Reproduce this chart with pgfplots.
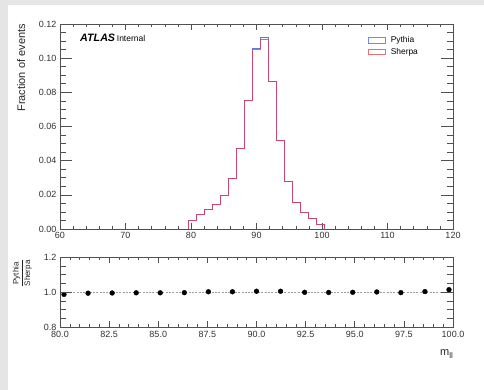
\documentclass[border=0pt]{standalone}
\usepackage{fontspec}
\setmainfont{Liberation Sans}
\usepackage{pgfplots}
\pgfplotsset{compat=1.18}
\definecolor{bggray}{RGB}{229,229,229}
\definecolor{axcol}{RGB}{80,80,80}
\definecolor{pyth}{RGB}{90,120,235}
\definecolor{sherp}{RGB}{228,58,85}
\definecolor{pythL}{RGB}{110,140,240}
\definecolor{sherpL}{RGB}{235,110,120}
\begin{document}
\begin{tikzpicture}
\fill[bggray] (0,0) rectangle (484pt,390pt);
\fill[white] (8pt,0) rectangle (484pt,385pt);
\pgfplotsset{
  rootstyle/.style={
    scale only axis, width=393pt,
    axis line style={axcol, line width=0.8pt},
    tick align=inside, tick pos=both,
    every tick/.style={axcol, line width=0.6pt},
    /pgf/number format/assume math mode=true,
    tick label style={font=\fontsize{9}{10}\selectfont, text=black!80},
    major tick length=6pt, minor tick length=3pt,
    scaled ticks=false,
  },
  yticksonly/.style={
    scale only axis, width=393pt,
    axis line style={axcol, line width=0.8pt},
    tick align=inside, tick pos=both,
    every tick/.style={axcol, line width=0.6pt},
    major tick length=12pt, minor tick length=6pt,
    xtick=\empty, yticklabels={},
  }
}
\begin{axis}[rootstyle,
  at={(60pt,161pt)}, anchor=south west, height=205pt,
  xmin=60, xmax=120, ymin=0, ymax=0.12,
  xtick={60,70,80,90,100,110,120}, minor x tick num=4,
  ytick={0,0.02,0.04,0.06,0.08,0.1,0.12}, minor y tick num=3,
  yticklabel style={/pgf/number format/.cd, fixed, fixed zerofill, precision=2},
  ylabel={Fraction of events},
  ylabel style={at={(axis description cs:-0.089,1)}, anchor=base east, inner sep=0pt, font=\fontsize{11}{12}\selectfont, text=black!85},
  legend style={at={(axis description cs:0.782,0.948)}, anchor=north west, draw=none, fill=none,
    font=\fontsize{8.4}{9}\selectfont, row sep=1.2pt, column sep=4pt, inner sep=0pt, nodes={inner sep=1.5pt}},
  legend cell align=left,
  legend image code/.code={\draw[#1] (0pt,-2.8pt) rectangle (17pt,2.8pt);},
]
\addplot[pyth, line width=0.9pt, const plot, forget plot] coordinates {
(79.592,0) (79.592,0.00494) (80.816,0.00856) (82.041,0.01125) (83.265,0.01446)
(84.490,0.01974) (85.714,0.02944) (86.939,0.04734) (88.163,0.07553) (89.388,0.10563)
(90.612,0.11187) (91.837,0.08620) (93.061,0.05175) (94.286,0.02810) (95.510,0.01553)
(96.735,0.00948) (97.959,0.00622) (99.184,0.00294) (100.408,0)};
\addplot[sherp, line width=0.9pt, opacity=0.8, const plot, forget plot] coordinates {
(79.592,0) (79.592,0.0050) (80.816,0.0086) (82.041,0.0113) (83.265,0.0145)
(84.490,0.0198) (85.714,0.0295) (86.939,0.0472) (88.163,0.0753) (89.388,0.1050)
(90.612,0.1112) (91.837,0.0862) (93.061,0.0518) (94.286,0.0281) (95.510,0.0155)
(96.735,0.0095) (97.959,0.0062) (99.184,0.0029) (100.408,0)};
\addlegendimage{pythL, line width=0.8pt}
\addlegendentry{Pythia}
\addlegendimage{sherpL, line width=0.8pt}
\addlegendentry{Sherpa}
\node[anchor=base west, inner sep=0pt] at (axis description cs:0.051,0.915)
  {\fontsize{10.7}{12}\selectfont\textbf{\textit{ATLAS}}\,\fontsize{8.5}{10}\selectfont Internal};
\end{axis}
\begin{axis}[yticksonly,
  at={(60pt,161pt)}, anchor=south west, height=205pt,
  xmin=60, xmax=120, ymin=0, ymax=0.12,
  ytick={0,0.02,0.04,0.06,0.08,0.1,0.12}, minor y tick num=3,
]
\end{axis}
\begin{axis}[rootstyle,
  at={(60pt,62.7pt)}, anchor=south west, height=70pt,
  xmin=80, xmax=100, ymin=0.8, ymax=1.2,
  xtick={80,82.5,85,87.5,90,92.5,95,97.5,100}, minor x tick num=4,
  ytick={0.8,1.0,1.2}, minor y tick num=3,
  xticklabel style={/pgf/number format/.cd, fixed, fixed zerofill, precision=1},
  yticklabel style={/pgf/number format/.cd, fixed, fixed zerofill, precision=1},
  ylabel={\fontsize{8}{9}\selectfont$\displaystyle\frac{\mbox{Pythia}}{\mbox{Sherpa}}$},
  ylabel style={at={(axis description cs:-0.096,0.77)}, anchor=center, inner sep=0pt, text=black!85},
  xlabel={m\raisebox{-0.45ex}{\fontsize{8}{9}\selectfont ll}},
  xlabel style={at={(axis description cs:1,-0.41)}, anchor=base east, inner sep=0pt, font=\fontsize{11}{12}\selectfont, text=black!85},
]
\addplot[gray!75, dash pattern=on 2pt off 1.3pt, line width=0.8pt] coordinates {(80,1) (100,1)};
\addplot[only marks, mark=*, mark size=2.4pt, black] coordinates {
(80.204,0.988) (81.429,0.995) (82.653,0.996) (83.878,0.997) (85.102,0.997)
(86.327,0.998) (87.551,1.003) (88.776,1.003) (90.000,1.006) (91.224,1.006)
(92.449,1.000) (93.673,0.999) (94.898,1.000) (96.122,1.002) (97.347,0.998)
(98.571,1.004) (99.796,1.015)};
\end{axis}
\begin{axis}[yticksonly,
  at={(60pt,62.7pt)}, anchor=south west, height=70pt,
  xmin=80, xmax=100, ymin=0.8, ymax=1.2,
  ytick={0.8,1.0,1.2}, minor y tick num=3,
]
\end{axis}
\pgfresetboundingbox
\path[use as bounding box] (0,0) rectangle (484pt,390pt);
\end{tikzpicture}
\end{document}
